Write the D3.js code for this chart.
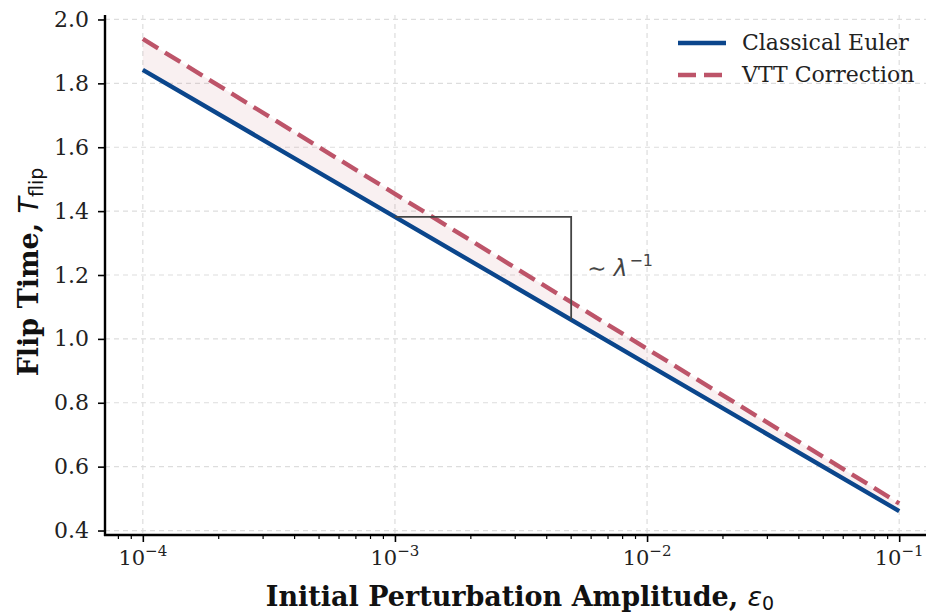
<!DOCTYPE html>
<html>
<head>
<meta charset="utf-8">
<script src="https://cdn.jsdelivr.net/npm/d3@7"></script>
<style>
  body { margin: 0; background: #fff; }
  svg { display: block; }
  text { font-family: "DejaVu Serif", serif; }
</style>
</head>
<body>
<div id="chart"></div>
<script>
// data
var eps = [1e-4, 1e-3, 1e-2, 1e-1];
var euler = [1.842, 1.382, 0.921, 0.461];
var vtt = [1.939, 1.454, 0.969, 0.485];
var yTicks = [0.4, 0.6, 0.8, 1.0, 1.2, 1.4, 1.6, 1.8, 2.0];
var xTicks = [1e-4, 1e-3, 1e-2, 1e-1];
var seriesNames = ["Classical Euler", "VTT Correction"];
// slope triangle corners (x0, x1 in eps units)
var triX = [1e-3, 5e-3];

const W = 926, H = 615;
const blue = "#0b468c", rose = "#bd5469";

var svg = d3.select("#chart").append("svg")
    .attr("width", W).attr("height", H);

var x = d3.scaleLog()
    .domain([Math.pow(10, -4.15), Math.pow(10, -0.85)])
    .range([105, 937]);
var y = d3.scaleLinear()
    .domain([0.386, 2.014])
    .range([535, 15]);

// grid
var grid = svg.append("g");
grid.selectAll("line.gx").data(xTicks).enter().append("line")
    .attr("x1", d => x(d)).attr("x2", d => x(d))
    .attr("y1", 15).attr("y2", 535)
    .attr("stroke", "#dddddd").attr("stroke-width", 1.2)
    .attr("stroke-dasharray", "5,4");
grid.selectAll("line.gy").data(yTicks).enter().append("line")
    .attr("x1", 105).attr("x2", W)
    .attr("y1", d => y(d)).attr("y2", d => y(d))
    .attr("stroke", "#dddddd").attr("stroke-width", 1.2)
    .attr("stroke-dasharray", "5,4");

// shaded band between the two curves
var rows = eps.map((e, i) => ({ e: e, a: euler[i], b: vtt[i] }));
svg.append("path")
    .datum(rows)
    .attr("d", d3.area().x(d => x(d.e)).y0(d => y(d.a)).y1(d => y(d.b)))
    .attr("fill", rose).attr("fill-opacity", 0.09);

svg.append("path")
    .datum(rows)
    .attr("d", d3.line().x(d => x(d.e)).y(d => y(d.a)))
    .attr("fill", "none").attr("stroke", blue).attr("stroke-width", 4.4);

svg.append("path")
    .datum(rows)
    .attr("d", d3.line().x(d => x(d.e)).y(d => y(d.b)))
    .attr("fill", "none").attr("stroke", rose).attr("stroke-width", 4.4)
    .attr("stroke-dasharray", "18,8");

// slope triangle
var tY0 = euler[1];
var tY1 = tY0 - (euler[1] - euler[2]) * Math.log10(triX[1] / triX[0]);
svg.append("path")
    .attr("d", d3.line()([[x(triX[0]), y(tY0)], [x(triX[1]), y(tY0)], [x(triX[1]), y(tY1)]]))
    .attr("fill", "none").attr("stroke", "#444").attr("stroke-width", 1.8);

var lab = svg.append("text")
    .attr("x", x(triX[1]) + 16).attr("y", y((tY0 + tY1) / 2) + 8)
    .attr("fill", "#444").attr("font-size", 23)
    .style("font-family", "DejaVu Sans");
lab.append("tspan").text("\u223C ");
lab.append("tspan").text("\u03BB").attr("font-style", "italic");
lab.append("tspan").text("\u22121").attr("font-size", 16).attr("dy", -10).attr("dx", 2);

// axes
var ax = svg.append("g").attr("transform", "translate(0,535)");
ax.call(d3.axisBottom(x).tickValues(xTicks).tickSize(7).tickFormat(""));
ax.select(".domain").remove();
ax.selectAll("line").attr("stroke", "#000").attr("stroke-width", 1.6);

var minor = [];
[1e-5, 1e-4, 1e-3, 1e-2, 1e-1].forEach(function(d) {
    for (var k = 2; k < 10; k++) {
        var v = d * k;
        if (v > x.domain()[0] && v < x.domain()[1]) minor.push(v);
    }
});
svg.append("g").selectAll("line").data(minor).enter().append("line")
    .attr("x1", d => x(d)).attr("x2", d => x(d))
    .attr("y1", 535).attr("y2", 539)
    .attr("stroke", "#000").attr("stroke-width", 1.2);

xTicks.forEach(function(t) {
    var tx = svg.append("text")
        .attr("x", x(t)).attr("y", 565)
        .attr("text-anchor", "middle")
        .attr("font-size", 21).attr("fill", "#222");
    tx.append("tspan").text("10");
    tx.append("tspan").text("\u2212" + Math.round(-Math.log10(t)))
        .attr("font-size", 15).attr("dy", -9);
});

var ay = svg.append("g").attr("transform", "translate(105,0)");
ay.call(d3.axisLeft(y).tickValues(yTicks).tickSize(7).tickPadding(9)
    .tickFormat(d3.format(".1f")));
ay.select(".domain").remove();
ay.selectAll("line").attr("stroke", "#000").attr("stroke-width", 1.6);
ay.selectAll("text").attr("font-size", 22).attr("fill", "#222")
    .style("font-family", "DejaVu Serif");

// spines
svg.append("line").attr("x1", 105).attr("x2", 105).attr("y1", 15).attr("y2", 536)
    .attr("stroke", "#000").attr("stroke-width", 2.4);
svg.append("line").attr("x1", 104).attr("x2", W).attr("y1", 535).attr("y2", 535)
    .attr("stroke", "#000").attr("stroke-width", 2.4);

// axis labels
var xl = svg.append("text")
    .attr("x", 520).attr("y", 606)
    .attr("text-anchor", "middle")
    .attr("font-size", 27).attr("font-weight", "bold").attr("fill", "#111");
xl.append("tspan").text("Initial Perturbation Amplitude, ");
xl.append("tspan").text("\u03B5").attr("font-weight", "normal").attr("font-style", "italic")
    .attr("font-size", 27).style("font-family", "DejaVu Sans");
xl.append("tspan").text("0").attr("font-weight", "normal").attr("font-size", 19).attr("dy", 4)
    .style("font-family", "DejaVu Sans");

var yl = svg.append("text")
    .attr("transform", "translate(38,272) rotate(-90)")
    .attr("text-anchor", "middle")
    .attr("font-size", 27).attr("font-weight", "bold").attr("fill", "#111");
yl.append("tspan").text("Flip Time, ");
yl.append("tspan").text("T").attr("font-weight", "normal").attr("font-style", "italic")
    .attr("font-size", 27).style("font-family", "DejaVu Sans");
yl.append("tspan").text("flip").attr("font-weight", "normal").attr("font-size", 19).attr("dy", 5)
    .style("font-family", "DejaVu Sans");

// legend
var leg = svg.append("g");
var legColors = [blue, rose], legDash = [null, "18,8"];
seriesNames.forEach(function(name, i) {
    var ly = 43 + i * 32;
    leg.append("line")
        .attr("x1", 678).attr("x2", 726).attr("y1", ly).attr("y2", ly)
        .attr("stroke", legColors[i]).attr("stroke-width", 4.4)
        .attr("stroke-dasharray", legDash[i]);
    leg.append("text")
        .attr("x", 742).attr("y", ly + 7)
        .attr("font-size", 22).attr("fill", "#222")
        .text(name);
});
</script>
</body>
</html>
